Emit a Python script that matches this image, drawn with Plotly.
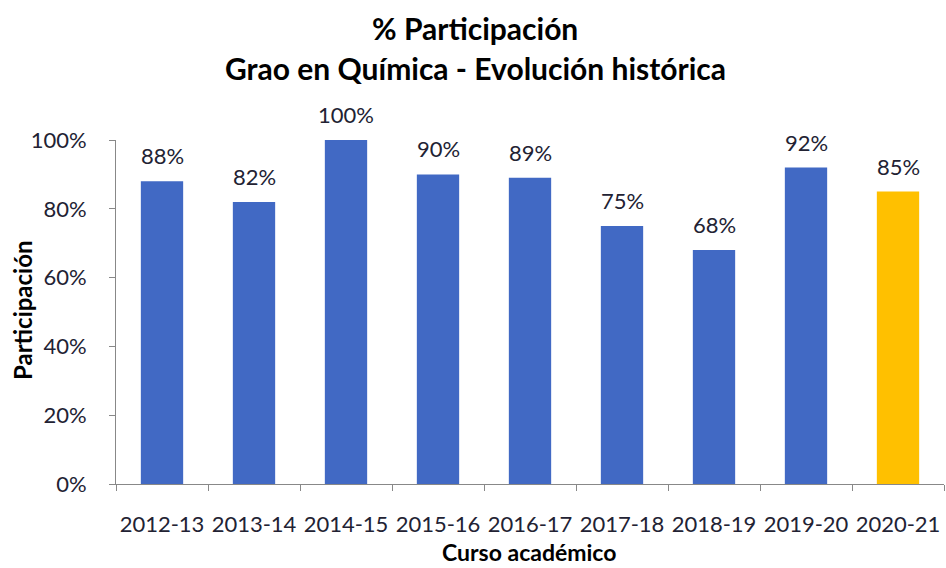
import plotly.graph_objects as go

cursos = ["2012-13", "2013-14", "2014-15", "2015-16", "2016-17",
          "2017-18", "2018-19", "2019-20", "2020-21"]
participacion = [0.88, 0.82, 1.00, 0.90, 0.89, 0.75, 0.68, 0.92, 0.85]
cores = ["#4169C4"] * 8 + ["#FFC000"]

W, H = 946, 568
L, R, T, B = 116, 2, 140, 84
PW, PH = W - L - R, H - T - B

def px_x(x):
    return (x - L) / PW

def px_y(y):
    return (H - B - y) / PH

fig = go.Figure()
fig.add_trace(go.Bar(
    x=cursos, y=participacion,
    marker=dict(color=cores, line=dict(width=0)),
    cliponaxis=False, width=0.46, hoverinfo="x+y",
))

annotations = []
for c, v in zip(cursos, participacion):
    annotations.append(dict(
        x=c, y=v, xref="x", yref="y", text=f"{v:.0%}", showarrow=False,
        yanchor="bottom", yshift=10,
        font=dict(size=22, color="#222233"),
    ))
annotations += [
    dict(text="<b>% Participación</b>", x=px_x(475), y=px_y(28),
         xref="paper", yref="paper", showarrow=False, yanchor="middle",
         font=dict(size=30, color="#000000")),
    dict(text="<b>Grao en Química - Evolución histórica</b>", x=px_x(475), y=px_y(68),
         xref="paper", yref="paper", showarrow=False, yanchor="middle",
         font=dict(size=30, color="#000000")),
    dict(text="<b>Curso académico</b>", x=px_x(529), y=px_y(552),
         xref="paper", yref="paper", showarrow=False, yanchor="middle",
         font=dict(size=23, color="#000000")),
    dict(text="<b>Participación</b>", x=px_x(22), y=px_y(310),
         xref="paper", yref="paper", showarrow=False, yanchor="middle",
         xanchor="center", textangle=-90,
         font=dict(size=24, color="#000000")),
]

fig.update_layout(
    width=W, height=H,
    margin=dict(l=L, r=R, t=T, b=B),
    paper_bgcolor="white", plot_bgcolor="white",
    font=dict(family="Lato", color="#111111"),
    showlegend=False,
    annotations=annotations,
)

fig.update_xaxes(
    automargin=False, tickangle=0,
    showline=True, linecolor="#888888", linewidth=1,
    ticks="outside", ticklen=6, tickcolor="#888888",
    tickson="boundaries", ticklabelstandoff=21,
    tickfont=dict(size=22, color="#222233"),
    showgrid=False,
)
fig.update_yaxes(
    automargin=False,
    range=[0, 1], tickvals=[0, 0.2, 0.4, 0.6, 0.8, 1.0], tickformat=".0%",
    showline=True, linecolor="#888888", linewidth=1,
    ticks="outside", ticklen=6, tickcolor="#888888", ticklabelstandoff=18,
    tickfont=dict(size=22, color="#222233"),
    showgrid=False, zeroline=False,
)

fig.write_html("out.html", config={"displayModeBar": False},
               post_script="document.body.style.margin='0px';")
